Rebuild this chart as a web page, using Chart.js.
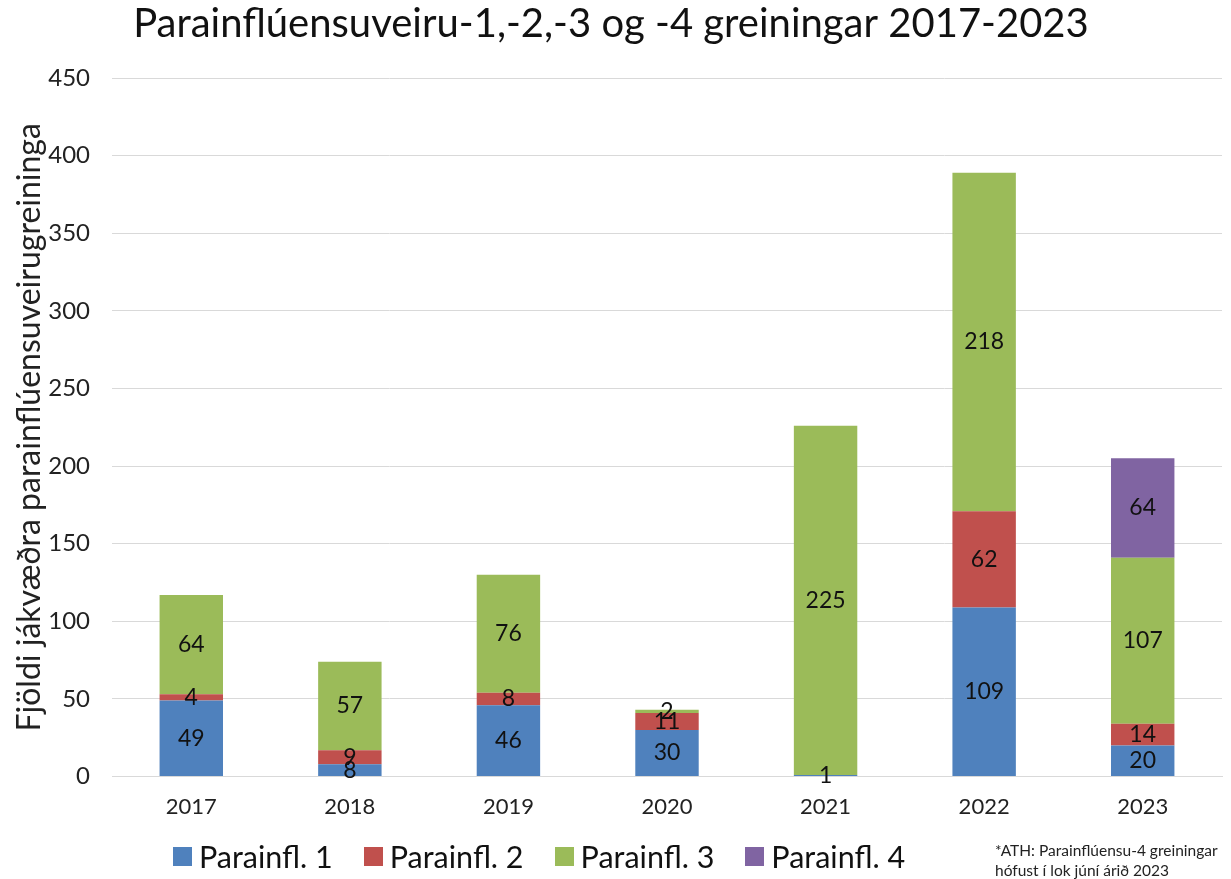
<!DOCTYPE html>
<html>
<head>
<meta charset="utf-8">
<script src="https://cdn.jsdelivr.net/npm/chart.js@4"></script>
<style>
  html, body { margin: 0; padding: 0; background: #fff; }
  #wrap { position: relative; width: 1231px; height: 879px; }
  #legend { position: absolute; left: 173px; top: 838px; display: flex; font: 30.5px Lato, sans-serif; color: #111; }
  #legend span.item { display: flex; align-items: center; margin-right: 31px; }
  #legend span.box { display: inline-block; width: 19px; height: 19px; margin-right: 7px; }
  #note { position: absolute; left: 995px; top: 840px; font: 15.5px Lato, sans-serif; color: #222; line-height: 20px; }
</style>
</head>
<body>
<div id="wrap">
  <canvas id="c" width="1231" height="879"></canvas>
  <div id="legend"></div>
  <div id="note">*ATH: Parainflúensu-4 greiningar<br>hófust í lok júní árið 2023</div>
</div>
<script>
// values
const years = ['2017', '2018', '2019', '2020', '2021', '2022', '2023'];
const para1 = [49, 8, 46, 30, 1, 109, 20];
const para2 = [4, 9, 8, 11, null, 62, 14];
const para3 = [64, 57, 76, 2, 225, 218, 107];
const para4 = [null, null, null, null, null, null, 64];
const names = ['Parainfl. 1', 'Parainfl. 2', 'Parainfl. 3', 'Parainfl. 4'];
const colors = ['#4F81BD', '#C0504D', '#9BBB59', '#8064A2'];

const FONT = 'Lato, sans-serif';

// centred value labels inside each segment
const segLabels = {
  id: 'segLabels',
  afterDatasetsDraw(chart) {
    const ctx = chart.ctx;
    ctx.save();
    ctx.font = '23px ' + FONT;
    ctx.fillStyle = '#111';
    ctx.textAlign = 'center';
    ctx.textBaseline = 'middle';
    chart.data.datasets.forEach((ds, di) => {
      const meta = chart.getDatasetMeta(di);
      meta.data.forEach((bar, i) => {
        const v = ds.data[i];
        if (v == null) return;
        ctx.fillText(String(v), bar.x, (bar.y + bar.base) / 2);
      });
    });
    ctx.restore();
  }
};

const series = [para1, para2, para3, para4];
const chart = new Chart(document.getElementById('c'), {
  type: 'bar',
  data: {
    labels: years,
    datasets: series.map((d, i) => ({ label: names[i], data: d, backgroundColor: colors[i], borderWidth: 0 }))
  },
  options: {
    responsive: false,
    animation: false,
    barPercentage: 0.8,
    categoryPercentage: 0.5,
    layout: { padding: { left: 0, right: 9, top: 0, bottom: 50 } },
    plugins: {
      legend: { display: false },
      tooltip: { enabled: false },
      title: {
        display: true,
        text: 'Parainflúensuveiru-1,-2,-3 og -4 greiningar 2017-2023',
        font: { family: FONT, size: 40, weight: 'normal' },
        color: '#111',
        padding: { top: 0, bottom: 30 }
      }
    },
    scales: {
      x: {
        stacked: true,
        grid: { display: false },
        border: { color: '#d9d9d9' },
        ticks: { font: { family: FONT, size: 22 }, color: '#222', padding: 9 }
      },
      y: {
        stacked: true,
        min: 0, max: 450,
        afterFit(scale) { scale.width = 112; },
        ticks: { stepSize: 50, font: { family: FONT, size: 24 }, color: '#222', padding: 22 },
        grid: { color: '#d9d9d9', drawTicks: false },
        border: { display: false },
        title: { display: true, text: 'Fjöldi jákvæðra parainflúensuveirugreininga', font: { family: FONT, size: 32, lineHeight: 1.0 }, color: '#222', padding: { top: 14, bottom: 0 } }
      }
    }
  },
  plugins: [segLabels]
});

const lg = document.getElementById('legend');
names.forEach((n, i) => {
  const it = document.createElement('span');
  it.className = 'item';
  it.innerHTML = '<span class="box" style="background:' + colors[i] + '"></span>' + n;
  lg.appendChild(it);
});
</script>
</body>
</html>
